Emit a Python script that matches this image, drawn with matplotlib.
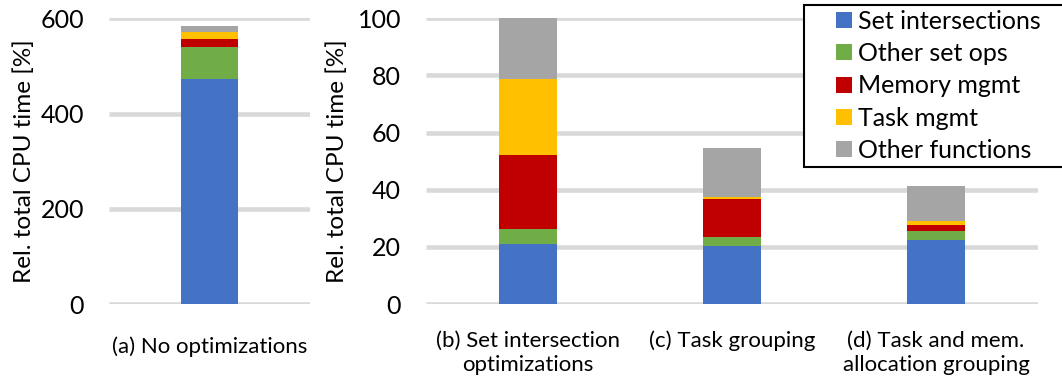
import matplotlib
matplotlib.use("Agg")
import matplotlib.pyplot as plt
from matplotlib.patches import Rectangle, Patch
from matplotlib.legend_handler import HandlerPatch
import numpy as np

plt.rcParams['font.family'] = ['Lato', 'DejaVu Sans']

# Stacked CPU-time breakdown (relative total CPU time, %)
components = ["Set intersections", "Other set ops", "Memory mgmt", "Task mgmt", "Other functions"]
colors = ["#4472C4", "#70AD47", "#C00000", "#FFC000", "#A5A5A5"]

left_labels = ["(a) No optimizations"]
left_values = {
    "Set intersections": [472.5],
    "Other set ops": [66.5],
    "Memory mgmt": [17.0],
    "Task mgmt": [14.5],
    "Other functions": [12.5],
}

right_labels = ["(b) Set intersection\noptimizations",
                "(c) Task grouping",
                "(d) Task and mem.\nallocation grouping"]
right_values = {
    "Set intersections": [21.1, 20.4, 22.5],
    "Other set ops": [5.2, 3.0, 3.2],
    "Memory mgmt": [25.7, 13.2, 1.9],
    "Task mgmt": [26.8, 0.8, 1.3],
    "Other functions": [21.2, 17.1, 12.4],
}

left_ticks = [0, 200, 400, 600]
right_ticks = [0, 20, 40, 60, 80, 100]

W, H = 1062, 381
fig = plt.figure(figsize=(W / 100, H / 100), dpi=100)

ax_a = fig.add_axes([109 / W, 1 - 304 / H, 201 / W, (304 - 18.3) / H])
ax_b = fig.add_axes([426 / W, 1 - 304 / H, 612 / W, (304 - 18.3) / H])

bar_w = 0.284
grid_color = "#D9D9D9"


def draw(ax, labels, values, ticks, xpad):
    x = np.arange(len(labels))
    bottom = np.zeros(len(labels))
    for name, col in zip(components, colors):
        v = np.array(values[name])
        ax.bar(x, v, bar_w, bottom=bottom, color=col, label=name, zorder=3)
        bottom += v
    ax.set_xlim(-0.5, len(labels) - 0.5)
    ax.set_ylim(0, ticks[-1])
    ax.set_yticks(ticks)
    ax.set_xticks(x)
    ax.set_xticklabels(labels, fontsize=16, linespacing=1.3, va="top")
    for t in ticks:
        ax.axhline(t, color=grid_color, lw=3.3, zorder=1, solid_capstyle="butt")
    for s in ax.spines.values():
        s.set_visible(False)
    ax.tick_params(axis="y", length=0, pad=18, labelsize=18)
    ax.tick_params(axis="x", length=0, pad=xpad)
    ax.set_ylabel("Rel. total CPU time [%]", fontsize=17.5, labelpad=4)


draw(ax_a, left_labels, left_values, left_ticks, xpad=23)
draw(ax_b, right_labels, right_values, right_ticks, xpad=19)
ax_b.yaxis.labelpad = 7


def square_at_right(legend, orig_handle, xdescent, ydescent, width, height, fontsize):
    side = 16 * 72 / fig.dpi
    return Rectangle((width - side - xdescent, -ydescent + (height - side) / 2),
                     side, side)


handles = [Patch(facecolor=c, edgecolor="none") for c in colors]
leg = fig.legend(handles=handles, labels=components, loc="upper left",
                 bbox_to_anchor=(804 / W, 1 - 166 / H, 262 / W, 161 / H),
                 mode="expand", fontsize=18,
                 frameon=True, fancybox=False, framealpha=1,
                 edgecolor="black", handlelength=1.72, handleheight=0.64,
                 handletextpad=0.24, labelspacing=0.37, borderpad=0.2,
                 borderaxespad=0,
                 handler_map={Patch: HandlerPatch(patch_func=square_at_right)})
leg.get_frame().set_linewidth(1.5)

fig.savefig("out.png", dpi=100)
